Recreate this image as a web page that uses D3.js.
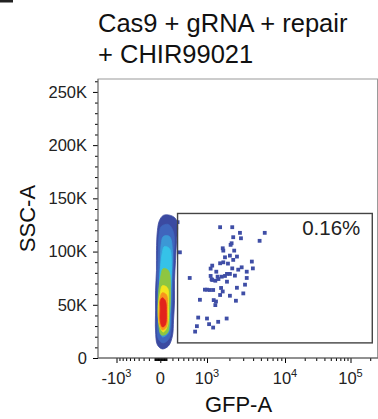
<!DOCTYPE html>
<html>
<head>
<meta charset="utf-8">
<script src="https://cdn.jsdelivr.net/npm/d3@7"></script>
<style>
body { margin: 0; background: #fff; }
svg { display: block; font-family: "Liberation Sans", Arial, sans-serif; }
</style>
</head>
<body>
<div id="plot"></div>
<script>
// title lines
var titleLines = ["Cas9 + gRNA + repair", "+ CHIR99021"];

// events inside the gate: GFP-A and SSC-A (K)
var gatedGfp = [1512, 2175, 2729, 5590, 2239, 2810, 4822, 2135, 2073, 1637,
  1666, 2305, 333, 2030, 1752, 2239, 3854, 1666, 1512, 1183,
  3969, 2175, 2869, 2594, 3324, 2030, 1752, 1590, 1125, 3324,
  1437, 1183, 1304, 533, 3162, 1557, 1000, 1093, 1219, 1637,
  3008, 2030, 1512, 1240, 1331, 1304, 739, 1000, 1842, 1070,
  705, 1219, 660, 290, 933, 1860, 2354, 2500, 1400, 1160,
  1860, 2496, 1125, 1915, 1344, 786, 2424, 1425];
var gatedSsc = [122.9, 122.9, 117.6, 117.6, 113.5, 112.5, 110.1, 107.8, 106.3, 103.1,
  100.9, 100.9, 99.3, 96.2, 94.6, 92.2, 90.6, 89.9, 89.0, 86.8,
  84.2, 84.2, 85.2, 83.0, 81.1, 79.0, 77.1, 76.4, 77.1, 75.2,
  74.2, 73.3, 72.6, 75.2, 68.9, 65.8, 64.2, 63.9, 63.9, 62.5,
  60.7, 58.5, 59.2, 54.4, 53.1, 49.7, 38.0, 37.1, 37.1, 31.8,
  29.9, 28.6, 24.8, 127.6, 64.2, 79.0, 77.4, 95.3, 76.4, 74.0,
  71.7, 66.0, 84.0, 88.7, 81.1, 54.7, 53.8, 34.0];

// main population density levels, outer to inner: outlines as [GFP-A, SSC-A (K)]
var levelColors = ["#3b4aa1", "#3f66bd", "#3b98d6", "#35c2e8", "#8ec641", "#f3e51d", "#f7941e", "#e2231c"];
var levelOutlines = [
  [[49,134],[166,134],[253,131],[290,124.5],[272,110],[253,91.5],[236,72.6],[236,53.8],[218,34.9],[200,20.8],[132,11.3],[33,8.5],[-49,12.3],[-82,25.5],[-82,44.3],[-82,63.2],[-66,82.1],[-66,101],[-49,120],[-16,129]],
  [[16,123.6],[132,125.5],[218,117.9],[218,91.5],[200,63.2],[183,34.9],[149,18.9],[49,14.2],[-33,17.9],[-49,44.3],[-49,72.6],[-33,100.9],[-16,117.9]],
  [[49,114.2],[149,114.2],[200,100.9],[183,72.6],[166,44.3],[132,23.6],[33,19.8],[-16,34.9],[-16,63.2],[0,91.5],[16,107.5]],
  [[66,104.7],[149,102.8],[183,86.8],[166,63.2],[149,39.6],[115,25.5],[33,22.6],[-16,36.8],[-16,58.5],[0,82.1],[33,99.1]],
  [[49,84.0],[132,82.1],[166,63.2],[149,39.6],[115,23.6],[16,21.7],[-33,36.8],[-33,58.5],[0,74.5]],
  [[33,67.9],[115,66.0],[132,49.1],[115,30.2],[49,24.5],[-16,31.1],[-33,49.1],[0,61.3]],
  [[33,61.3],[99,59.4],[115,44.3],[99,29.2],[33,26.4],[-16,33.0],[-16,49.1],[0,57.5]],
  [[33,56.6],[82,53.8],[99,42.5],[82,31.1],[33,29.2],[0,34.9],[0,46.2],[0,53.8]]
];

// gate bounds
var gateGfp = [290, 215000];
var gateSsc = [14.2, 135.8];
var gateLabel = "0.16%";

// axes
var yMajor = [0, 50000, 100000, 150000, 200000, 250000];
var yLabels = ["0", "50K", "100K", "150K", "200K", "250K"];
var xMajor = [-1000, 0, 1000, 10000, 100000];
var xLabels = [["-10", "3"], ["0", ""], ["10", "3"], ["10", "4"], ["10", "5"]];
var xTitle = "GFP-A", yTitle = "SSC-A";

var margin = {top: 79, right: 0, bottom: 61, left: 98},
    width = 378 - margin.left - margin.right,
    height = 279;

var svg = d3.select("#plot")
  .append("svg")
    .attr("width", 378)
    .attr("height", 419);

// cropped panel letter at the corner
svg.append("rect").attr("x", 0).attr("y", 0).attr("width", 13).attr("height", 2.5).attr("fill", "#222");

// title
svg.append("text")
  .attr("font-size", "25.5px")
  .attr("fill", "#111")
  .selectAll("tspan")
  .data(titleLines)
  .enter()
  .append("tspan")
    .attr("x", 98)
    .attr("y", function(d, i) { return 32 + i * 31; })
    .text(function(d) { return d; });

var g = svg.append("g")
  .attr("transform", "translate(" + margin.left + "," + margin.top + ")");

// biexponential-like x transform
var cLin = 562;
function tf(v) { return Math.asinh(v / cLin); }
var xs = d3.scaleLinear()
  .domain(xMajor.map(tf))
  .range([18.5, 62.3, 109, 187, 252.5]);
function x(v) { return xs(tf(v)); }

var y = d3.scaleLinear()
  .domain([0, 262144])
  .range([height, 0]);

// frame
g.append("rect")
  .attr("x", 0).attr("y", 0)
  .attr("width", width - 0.5).attr("height", height)
  .attr("fill", "none")
  .attr("stroke", "#9a9a9a");

// density levels
var outline = d3.line()
  .x(function(d) { return x(d[0]); })
  .y(function(d) { return y(d[1] * 1000); })
  .curve(d3.curveCatmullRomClosed.alpha(0.5));

g.append("g")
  .selectAll("path")
  .data(levelOutlines)
  .enter()
  .append("path")
    .attr("d", outline)
    .attr("fill", function(d, i) { return levelColors[i]; })
    .attr("stroke", function(d, i) { return levelColors[i]; })
    .attr("stroke-width", 0.8);

// gated events
var gated = gatedGfp.map(function(v, i) { return [v, gatedSsc[i]]; });
g.append("g")
  .selectAll("rect")
  .data(gated)
  .enter()
  .append("rect")
    .attr("x", function(d) { return x(d[0]) - 1.9; })
    .attr("y", function(d) { return y(d[1] * 1000) - 1.9; })
    .attr("width", 3.8)
    .attr("height", 3.8)
    .attr("fill", "#3f4ea6");

// gate
g.append("rect")
  .attr("x", x(gateGfp[0]))
  .attr("y", y(gateSsc[1] * 1000))
  .attr("width", x(gateGfp[1]) - x(gateGfp[0]))
  .attr("height", y(gateSsc[0] * 1000) - y(gateSsc[1] * 1000))
  .attr("fill", "none")
  .attr("stroke", "#444")
  .attr("stroke-width", 1.4);

g.append("text")
  .attr("x", x(gateGfp[1]) - 12)
  .attr("y", y(gateSsc[1] * 1000) + 22)
  .attr("text-anchor", "end")
  .attr("font-size", "20.5px")
  .attr("fill", "#222")
  .text(gateLabel);

// Y axis
var yMinor = d3.range(10000, 262144, 10000).filter(function(v) { return v % 50000 !== 0; });
g.append("g")
  .call(d3.axisLeft(y).tickValues(yMinor).tickSize(3).tickSizeOuter(0).tickFormat(""))
  .call(function(s) { s.select(".domain").remove(); });
var yAxis = g.append("g")
  .call(d3.axisLeft(y).tickValues(yMajor).tickSize(5).tickSizeOuter(0).tickPadding(6)
    .tickFormat(function(d, i) { return yLabels[i]; }));
yAxis.select(".domain").remove();
yAxis.selectAll("text").attr("font-size", "16.5px").attr("fill", "#222")
  .attr("font-family", "'Liberation Sans', Arial, sans-serif");

// X axis
var xMinor = [];
[10, 100].forEach(function(p) {
  for (var k = 1; k <= 9; k++) { xMinor.push(-k * p); xMinor.push(k * p); }
});
[1000, 10000].forEach(function(p) {
  for (var k = 2; k <= 9; k++) { xMinor.push(k * p); }
});
xMinor.push(200000);
g.append("g")
  .attr("transform", "translate(0," + height + ")")
  .call(d3.axisBottom(xs).tickValues(xMinor.map(tf)).tickSize(3).tickSizeOuter(0).tickFormat(""))
  .call(function(s) { s.select(".domain").remove(); });
g.append("g")
  .attr("transform", "translate(0," + height + ")")
  .call(d3.axisBottom(xs).tickValues(xMajor.map(tf)).tickSize(5).tickSizeOuter(0).tickFormat(""))
  .call(function(s) { s.select(".domain").remove(); });

var xl = g.append("g")
  .selectAll("text")
  .data(xMajor)
  .enter()
  .append("text")
    .attr("x", function(d) { return x(d); })
    .attr("y", height + 26)
    .attr("text-anchor", "middle")
    .attr("font-size", "16.5px")
    .attr("fill", "#222");
xl.append("tspan").text(function(d, i) { return xLabels[i][0]; });
xl.append("tspan")
  .attr("dy", -7)
  .attr("font-size", "11px")
  .text(function(d, i) { return xLabels[i][1]; });

// axis lines
g.append("line").attr("x1", 0).attr("x2", width).attr("y1", height).attr("y2", height)
  .attr("stroke", "#555");
g.append("line").attr("x1", 0).attr("x2", 0).attr("y1", 0).attr("y2", height)
  .attr("stroke", "#777");

// axis titles
g.append("text")
  .attr("x", width / 2 + 0.5)
  .attr("y", height + 54)
  .attr("text-anchor", "middle")
  .attr("font-size", "22px")
  .attr("fill", "#111")
  .text(xTitle);

g.append("text")
  .attr("transform", "translate(" + (34.5 - margin.left) + "," + (height / 2) + ") rotate(-90)")
  .attr("text-anchor", "middle")
  .attr("font-size", "22px")
  .attr("fill", "#111")
  .text(yTitle);
</script>
</body>
</html>
